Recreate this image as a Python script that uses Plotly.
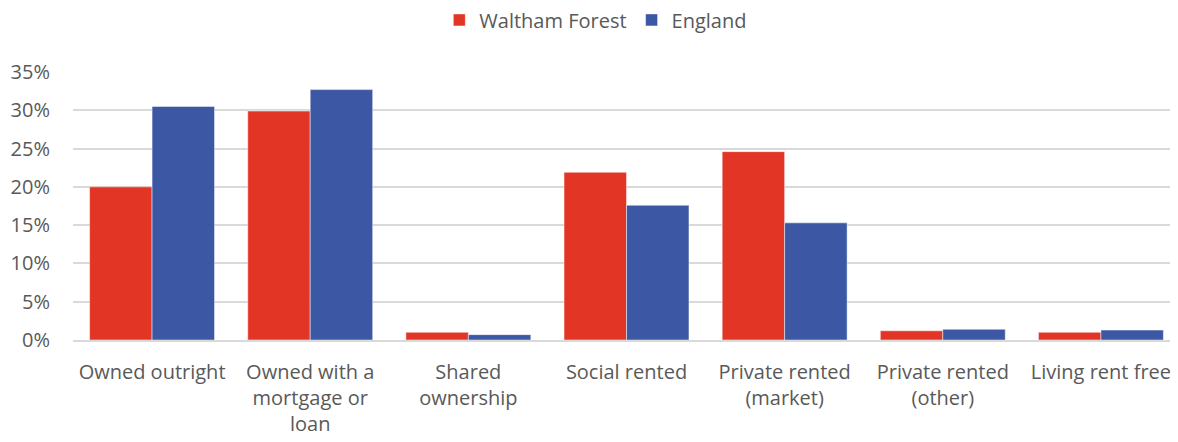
import plotly.graph_objects as go

categories = [
    "Owned outright",
    "Owned with a<br>mortgage or<br>loan",
    "Shared<br>ownership",
    "Social rented",
    "Private rented<br>(market)",
    "Private rented<br>(other)",
    "Living rent free",
]
waltham_forest = [20.0, 29.9, 1.0, 21.9, 24.6, 1.2, 1.0]
england = [30.5, 32.7, 0.7, 17.6, 15.3, 1.4, 1.3]
y_ticks = [0, 5, 10, 15, 20, 25, 30, 35]
y_tick_labels = [f"{v}%" for v in y_ticks]

fig = go.Figure()

fig.add_trace(go.Bar(
    x=categories,
    y=waltham_forest,
    name="Waltham Forest",
    marker=dict(color="#E33526", line=dict(color="rgba(255,255,255,0.6)", width=0.8)),
))
fig.add_trace(go.Bar(
    x=categories,
    y=england,
    name="England",
    marker=dict(color="#3C57A3", line=dict(color="rgba(255,255,255,0.6)", width=0.8)),
))

# page has an 8px body margin, so margins are shifted to compensate
fig.update_layout(
    width=1178,
    height=442,
    barmode="group",
    bargap=0.21,
    bargroupgap=0,
    plot_bgcolor="white",
    paper_bgcolor="white",
    font=dict(family="Open Sans, sans-serif", size=20, color="#595959"),
    margin=dict(l=65, r=6, t=64, b=110),
    legend=dict(
        orientation="h",
        xref="container",
        yref="container",
        x=0.499,
        xanchor="center",
        y=0.973,
        yanchor="middle",
        font=dict(size=20, color="#595959"),
        itemwidth=30,
    ),
    xaxis=dict(
        showgrid=False,
        showline=True,
        linecolor="#D9D9D9",
        linewidth=2,
        ticks="",
        ticklabelstandoff=13,
        automargin=False,
    ),
    yaxis=dict(
        range=[0, 35],
        tickvals=y_ticks,
        ticktext=y_tick_labels,
        showgrid=True,
        gridcolor="#D9D9D9",
        gridwidth=2,
        zeroline=False,
        showline=False,
        ticks="",
        ticklabelstandoff=22,
        automargin=False,
    ),
)

fig.write_html("out.html")
